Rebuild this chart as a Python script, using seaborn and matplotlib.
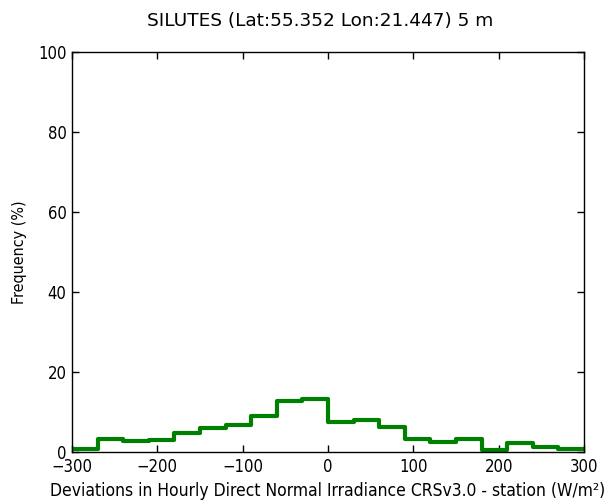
import numpy as np
import matplotlib
matplotlib.use('Agg')
import matplotlib.pyplot as plt
import seaborn as sns

sns.set_style("ticks")
plt.rcParams['font.family'] = ['DejaVu Sans']
plt.rcParams['font.stretch'] = 'condensed'
plt.rcParams['text.color'] = 'black'
plt.rcParams['axes.labelcolor'] = 'black'
plt.rcParams['xtick.direction'] = 'in'
plt.rcParams['ytick.direction'] = 'in'
plt.rcParams['xtick.top'] = True
plt.rcParams['ytick.right'] = True

# histogram of deviations, bin edges every 30 W/m2
bin_edges = list(range(-300, 301, 30))
freq = [0.7, 3.25, 2.7, 3.1, 4.7, 6.1, 6.7, 8.9, 12.75, 13.3,
        7.5, 7.9, 6.3, 3.3, 2.5, 3.3, 0.5, 2.2, 1.2, 0.8]
centers = [(bin_edges[i] + bin_edges[i + 1]) / 2 for i in range(len(freq))]

title = 'SILUTES (Lat:55.352 Lon:21.447) 5 m'
xlabel = 'Deviations in Hourly Direct Normal Irradiance CRSv3.0 - station (W/m²)'
ylabel = 'Frequency (%)'

fig = plt.figure(figsize=(6.07, 5.0), dpi=100)
ax = fig.add_axes([0.1186, 0.096, 0.8435, 0.8])

sns.histplot(x=centers, weights=freq, bins=bin_edges, element='step', fill=False,
             color='#008000', linewidth=3, ax=ax)

ax.set_xlim(-300, 300)
ax.set_ylim(0, 100)
ax.set_xticks(range(-300, 301, 100))
ax.set_yticks(range(0, 101, 20))
ax.tick_params(labelsize=12, length=5, width=1, colors='black', pad=4)
for s in ax.spines.values():
    s.set_color('black')
    s.set_linewidth(1)
ax.set_xlabel(xlabel, fontsize=12.5, labelpad=5)
ax.set_ylabel(ylabel, fontsize=11.5, labelpad=8)
fig.suptitle(title, fontsize=13.3, x=0.527, y=0.975, fontstretch='normal')

fig.savefig('out.png', dpi=100)
